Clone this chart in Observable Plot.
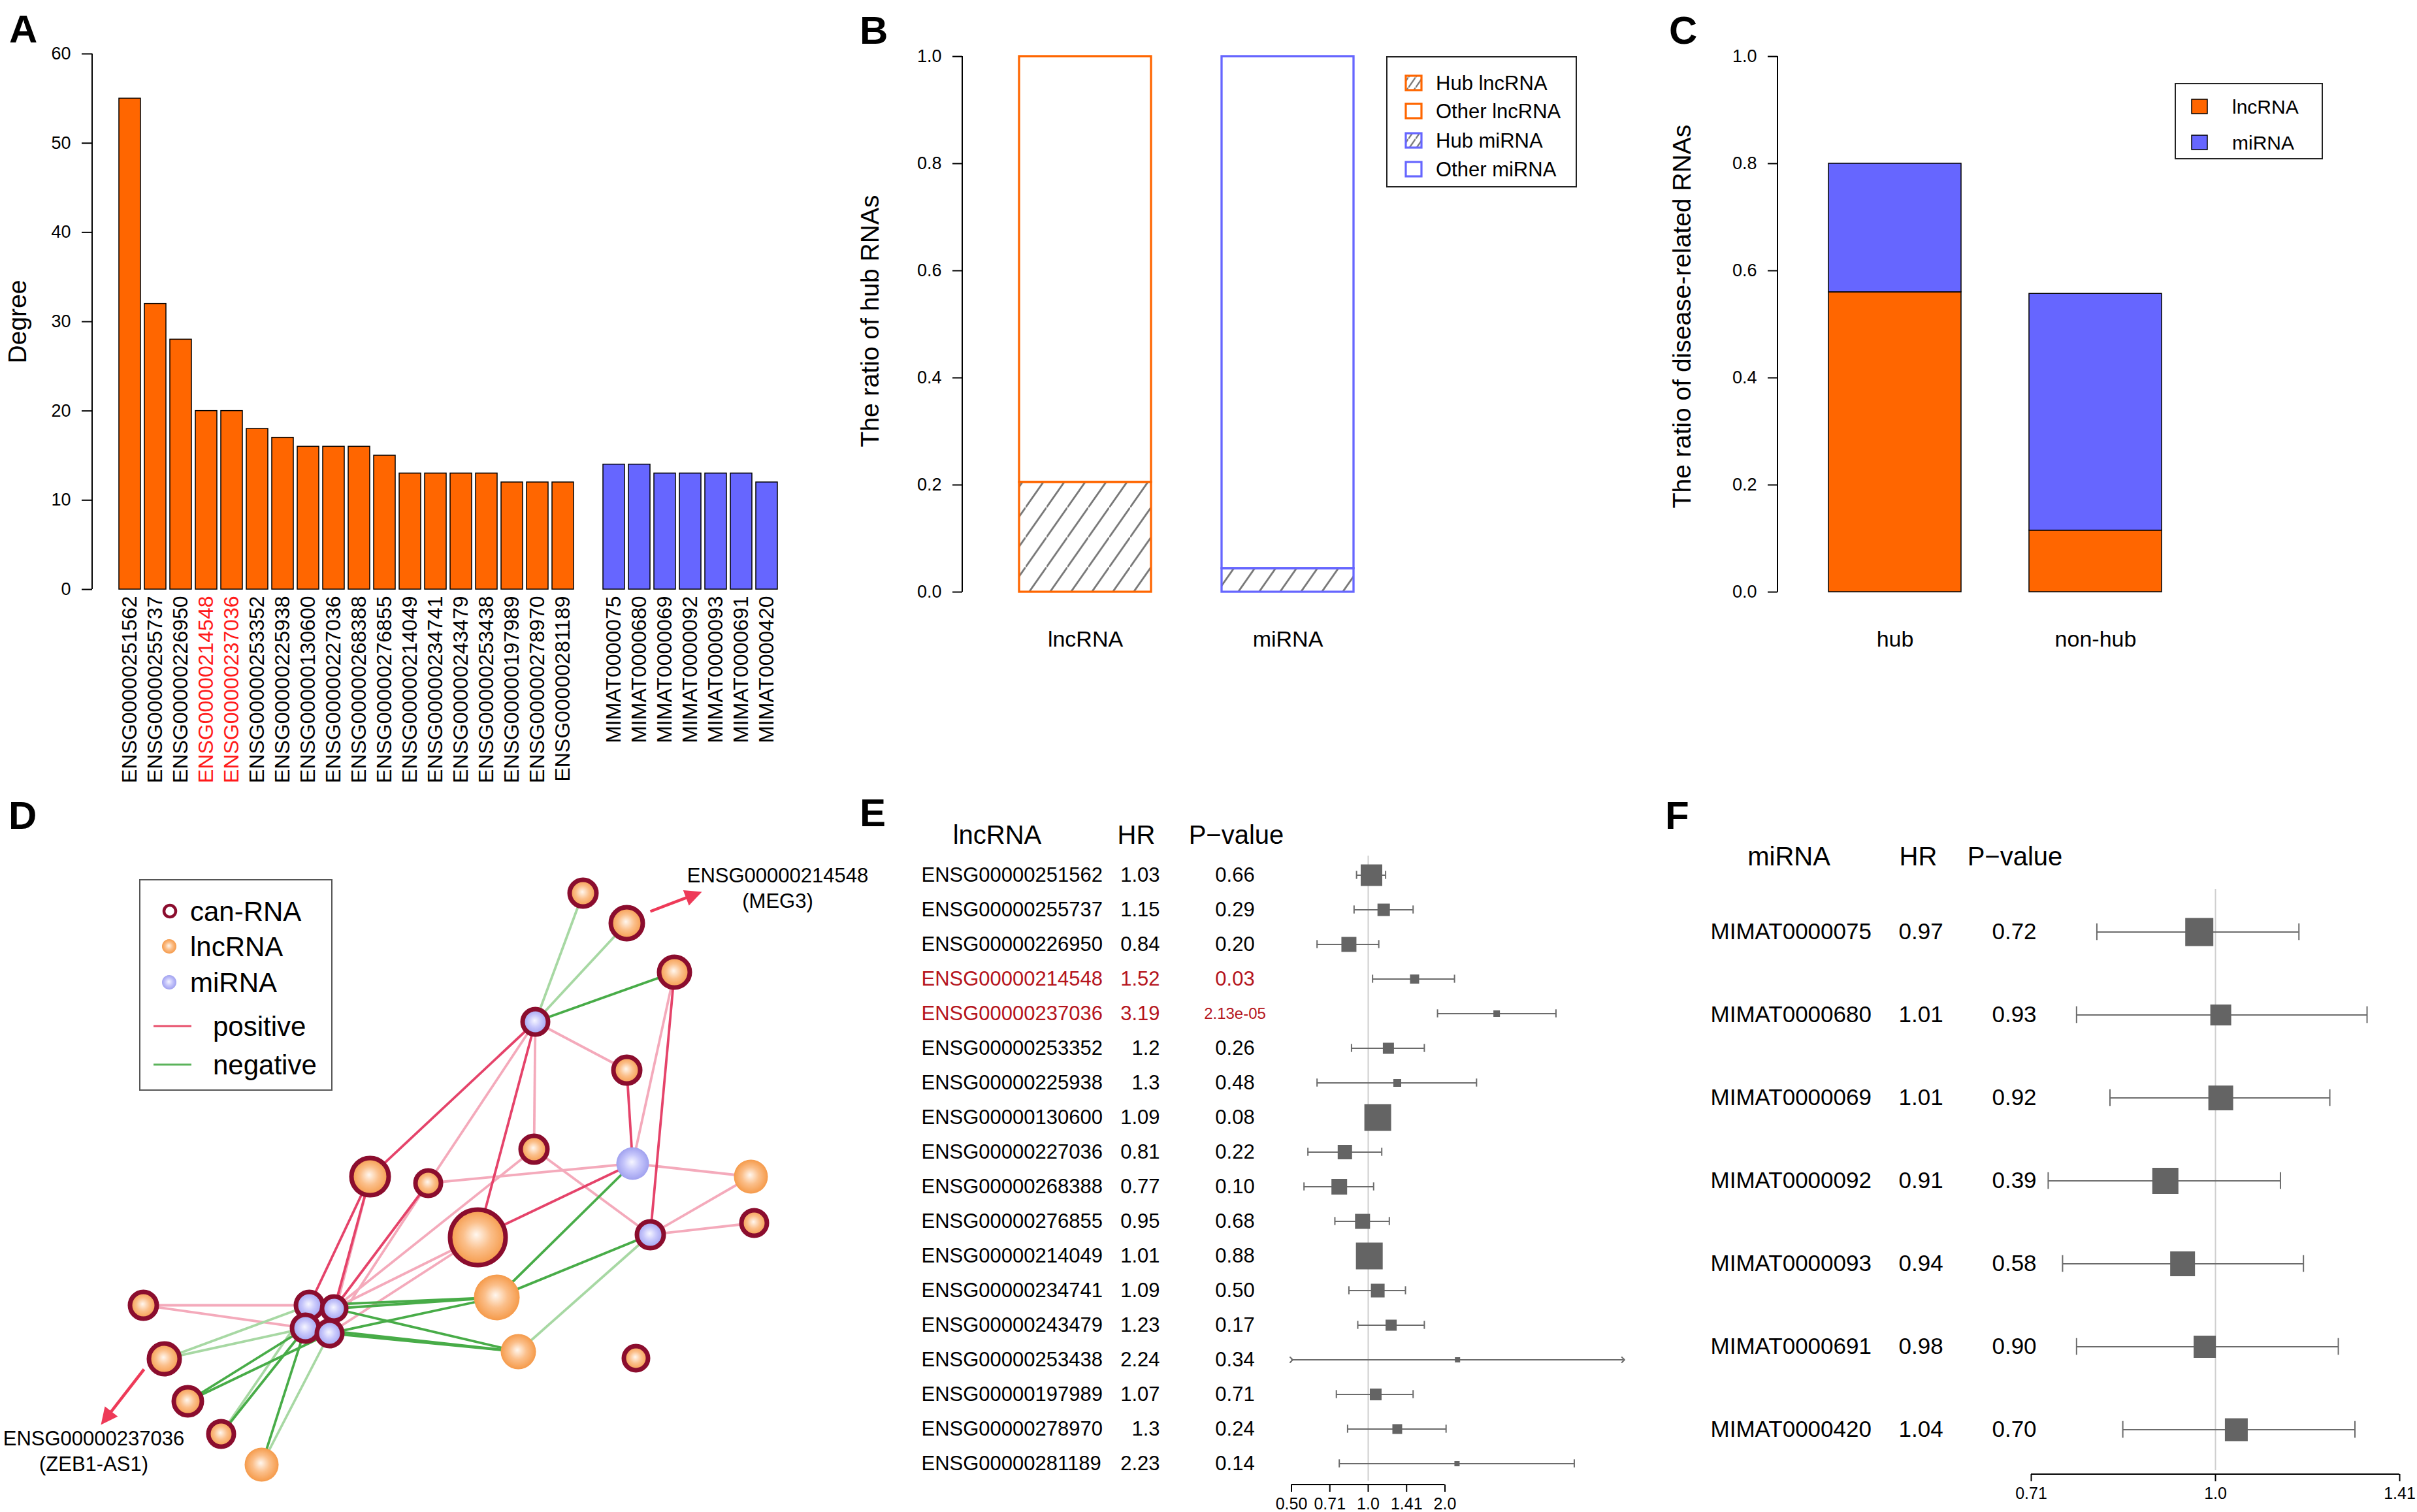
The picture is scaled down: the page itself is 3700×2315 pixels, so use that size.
<!DOCTYPE html>
<html>
<head>
<meta charset="utf-8">
<script src="https://cdn.jsdelivr.net/npm/d3@7"></script>
<script src="https://cdn.jsdelivr.net/npm/@observablehq/plot@0.6"></script>
<style>
html, body { margin: 0; padding: 0; background: #fff; }
#fig { position: relative; width: 3700px; height: 2315px; overflow: hidden; background: #fff;
       font-family: "Liberation Sans", Arial, Helvetica, sans-serif; }
.panel { position: absolute; }
.panel svg { display: block; max-width: none !important; overflow: visible; }
.letter { position: absolute; font-weight: bold; font-size: 60px; line-height: 60px; color: #000; }
</style>
</head>
<body>
<svg width="0" height="0" style="position:absolute;left:0;top:0">
  <defs>
    <pattern id="hatch" patternUnits="userSpaceOnUse" width="32" height="45.7">
      <path d="M-8,57.1L40,-11.4" stroke="#777" stroke-width="2.8" fill="none"/>
    </pattern>
    <pattern id="hatchSmall" patternUnits="userSpaceOnUse" width="11" height="15.7">
      <path d="M-3,20L14,-4.3" stroke="#777" stroke-width="2.4" fill="none"/>
    </pattern>
    <radialGradient id="gLnc" cx="0.5" cy="0.5" r="0.5" fx="0.47" fy="0.45">
      <stop offset="0" stop-color="#fff7ef"/>
      <stop offset="0.5" stop-color="#fbbf8a"/>
      <stop offset="1" stop-color="#f59a4a"/>
    </radialGradient>
    <radialGradient id="gMi" cx="0.5" cy="0.5" r="0.5" fx="0.47" fy="0.45">
      <stop offset="0" stop-color="#f6f6ff"/>
      <stop offset="0.5" stop-color="#c6c6fb"/>
      <stop offset="1" stop-color="#a0a1ef"/>
    </radialGradient>
  </defs>
</svg>
<div id="fig"></div>
<script>
// ------------------------------------------------------------------ data
// Panel A: degree of hub RNAs
const lncNames = ["ENSG00000251562","ENSG00000255737","ENSG00000226950","ENSG00000214548","ENSG00000237036",
  "ENSG00000253352","ENSG00000225938","ENSG00000130600","ENSG00000227036","ENSG00000268388","ENSG00000276855",
  "ENSG00000214049","ENSG00000234741","ENSG00000243479","ENSG00000253438","ENSG00000197989","ENSG00000278970",
  "ENSG00000281189"];
const lncDegree = [55,32,28,20,20,18,17,16,16,16,15,13,13,13,13,12,12,12];
const miNames = ["MIMAT0000075","MIMAT0000680","MIMAT0000069","MIMAT0000092","MIMAT0000093","MIMAT0000691","MIMAT0000420"];
const miDegree = [14,14,13,13,13,13,12];
const highlightedLnc = ["ENSG00000214548","ENSG00000237036"];
const degreeTicks = [0,10,20,30,40,50,60];

// Panel B: ratio of hub RNAs
const hubGroups = ["lncRNA","miRNA"];
const hubRatio = [0.205, 0.044];
const ratioTicks = [0,0.2,0.4,0.6,0.8,1.0];
const bLegendLabels = ["Hub lncRNA","Other lncRNA","Hub miRNA","Other miRNA"];

// Panel C: ratio of disease-related RNAs (stacked)
const hubClasses = ["hub","non-hub"];
const rnaTypes = ["lncRNA","miRNA"];
const diseaseLnc = [0.56, 0.115];
const diseaseMi = [0.24, 0.442];

// Panel D: network (layout coordinates, node type, cancer-related flag, node size)
const nodeIds   = ["n1","n2","n3","n4","n5","n6","n7","n8","n9","n10","n11","n12","n13","n14","n15","n16","m1","m2","m3","m4","n18","n19","n20","n21","n22"];
const nodeX     = [89.2,95.9,103.2,81.9,95.9,81.7,96.8,114.9,56.6,65.5,73.1,99.5,115.4,76.0,79.3,97.3,47.3,51.1,46.7,50.4,21.9,25.1,28.7,33.8,40.0];
const nodeY     = [18.7,23.3,30.8,38.4,45.8,57.9,60.1,62.1,62.1,63.1,71.4,71.0,69.2,80.6,88.9,89.9,81.8,82.3,85.3,86.1,81.8,90.0,96.5,101.5,106.2];
const nodeType  = ["lnc","lnc","lnc","mi","lnc","lnc","mi","lnc","lnc","lnc","lnc","mi","lnc","lnc","lnc","lnc","mi","mi","mi","mi","lnc","lnc","lnc","lnc","lnc"];
const nodeCan   = [1,1,1,1,1,1,0,0,1,1,1,1,1,0,0,1,1,1,1,1,1,1,1,1,0];
const nodeSize  = [24,28,27,23,24,24,25,26,32,23,46,24,23,35,27,22,24,22,24,23,24,27,25,23,26];
const edgeFrom  = ["n4","n4","n3","n5","n7","n9","n9","n10","n4","n4","n4","n3","n7","n7","n6","n12","n12","n6","n9","n10","n11","n11","n18","n18",
                   "n4","n7","n12","n14","n14","n14","n15","n15","n15","n20","n20","n21","n22","n4","n4","n12","n19","n19","n21","n22"];
const edgeTo    = ["n9","n11","n12","n7","n11","m1","m2","m2","n10","n6","n5","n7","n10","n8","n12","n8","n13","m2","m4","m4","m2","m4","m1","m3",
                   "n3","n14","n14","m1","m2","m4","m2","m4","m3","m3","m4","m3","m3","n1","n2","n15","m3","m1","m1","m4"];
const edgeSign  = ["+","+","+","+","+","+","+","+","+","+","+","+","+","+","+","+","+","+","+","+","+","+","+","+",
                   "-","-","-","-","-","-","-","-","-","-","-","-","-","-","-","-","-","-","-","-"];
const edgeStrong= [1,1,1,1,1,1,1,1,0,0,0,0,0,0,0,0,0,0,0,0,0,0,0,0,
                   1,1,1,1,1,1,1,1,1,1,1,1,1,0,0,0,0,0,0,0];
const annoGenes   = ["ENSG00000214548","ENSG00000237036"];
const annoSymbols = ["(MEG3)","(ZEB1-AS1)"];
const annoTailX = [99.5, 22.0], annoTailY = [21.5, 91.6];
const annoTipX  = [107.4, 15.4], annoTipY = [18.5, 100.1];
const annoLabelX = [119.0, 14.3], annoLabelY = [16.1, 102.3];
const dLegendLabels = ["can-RNA","lncRNA","miRNA","positive","negative"];

// Panel E: lncRNA survival (Cox) results
const eNames = lncNames;
const eHR = ["1.03","1.15","0.84","1.52","3.19","1.2","1.3","1.09","0.81","0.77","0.95","1.01","1.09","1.23","2.24","1.07","1.3","2.23"];
const eP  = ["0.66","0.29","0.20","0.03","2.13e-05","0.26","0.48","0.08","0.22","0.10","0.68","0.88","0.50","0.17","0.34","0.71","0.24","0.14"];
const eLower = [0.90,0.88,0.63,1.04,1.87,0.86,0.63,0.99,0.58,0.56,0.74,0.91,0.84,0.91,0.30,0.75,0.83,0.77];
const eUpper = [1.17,1.50,1.10,2.18,5.45,1.66,2.66,1.20,1.13,1.05,1.21,1.12,1.40,1.66,16.5,1.50,2.02,6.43];
const eWeight = [33,19,23,14,10,17,12,41,22,24,23,41,21,17,8,18,15,8];
const eClip = [0.5, 10];
const eTicks = [0.5, Math.SQRT1_2, 1, Math.SQRT2, 2];
const eTickLabels = ["0.50","0.71","1.0","1.41","2.0"];
const eHeaders = ["lncRNA","HR","P\u2212value"];

// Panel F: miRNA survival (Cox) results
const fNames = miNames;
const fHR = ["0.97","1.01","1.01","0.91","0.94","0.98","1.04"];
const fP  = ["0.72","0.93","0.92","0.39","0.58","0.90","0.70"];
const fLower = [0.80,0.77,0.82,0.73,0.75,0.77,0.84];
const fUpper = [1.17,1.33,1.24,1.13,1.18,1.26,1.30];
const fWeight = [43,32,38,40,38,34,35];
const fTicks = [Math.SQRT1_2, 1, Math.SQRT2];
const fTickLabels = ["0.71","1.0","1.41"];
const fHeaders = ["miRNA","HR","P\u2212value"];

// ------------------------------------------------------------------ helpers
const ORANGE = "#FF6600", BLUE = "#6666FF", HILITE = "#FF1A1A", SIGRED = "#B5141C";
const CAN = "#8B0D2E", BOX = "#646464", CI = "#6b6b6b";
const FONT = "'Liberation Sans', Arial, Helvetica, sans-serif";
const PLOT_STYLE = `background: transparent; font-family: ${FONT}; overflow: visible; max-width: none;`;
const fig = document.getElementById("fig");

function place(node, left, top, w, h) {
  const div = document.createElement("div");
  div.className = "panel";
  Object.assign(div.style, {left: left + "px", top: top + "px", width: w + "px", height: h + "px"});
  div.appendChild(node);
  fig.appendChild(div);
}
function letter(t, left, top) {
  const d = document.createElement("div");
  d.className = "letter"; d.textContent = t;
  d.style.left = left + "px"; d.style.top = top + "px";
  fig.appendChild(d);
}
function addLine(svg, x1, y1, x2, y2, sw = 2) {
  d3.select(svg).append("line")
    .attr("x1", x1).attr("x2", x2).attr("y1", y1).attr("y2", y2)
    .attr("stroke", "#000").attr("stroke-width", sw);
}
function overlay(left, top, w, h) {
  const s = d3.create("svg").attr("width", w).attr("height", h)
    .style("position", "absolute").style("left", left + "px").style("top", top + "px")
    .style("overflow", "visible").style("font-family", FONT);
  fig.appendChild(s.node());
  return s;
}

// ------------------------------------------------------------------ Panel A
{
  const rows = [
    ...lncNames.map((name, i) => ({name, degree: lncDegree[i], kind: "lncRNA"})),
    ...miNames.map((name, i) => ({name, degree: miDegree[i], kind: "miRNA"}))
  ];
  const domain = [...lncNames, "\u00a0", ...miNames];
  const ML = 141;
  const svg = Plot.plot({
    width: 1240, height: 1210, marginLeft: ML, marginRight: 10, marginTop: 82, marginBottom: 308,
    style: PLOT_STYLE,
    color: {type: "identity"},
    x: {domain, paddingInner: 0.165, paddingOuter: 0.86, axis: null},
    y: {domain: [0, 60], axis: null},
    marks: [
      Plot.barY(rows.filter(d => d.kind === "lncRNA"), {x: "name", y: "degree", fill: ORANGE, stroke: "#000", strokeWidth: 1.5}),
      Plot.barY(rows.filter(d => d.kind === "miRNA"), {x: "name", y: "degree", fill: BLUE, stroke: "#000", strokeWidth: 1.5}),
      Plot.axisY({ticks: degreeTicks, tickSize: 16, tickPadding: 17, fontSize: 27, strokeWidth: 2, label: null}),
      Plot.text(rows, {x: "name", y: 0, text: "name", rotate: -90, textAnchor: "end", dy: 10, fontSize: 32,
        fill: d => highlightedLnc.includes(d.name) ? HILITE : "#000"}),
      Plot.text(["Degree"], {text: d => d, y: () => 30, frameAnchor: "left", textAnchor: "middle", dx: -114, rotate: -90, fontSize: 39})
    ]
  });
  const y = svg.scale("y");
  addLine(svg, ML, y.apply(0), ML, y.apply(60), 2);
  place(svg, 0, 0, 1240, 1210);
  letter("A", 14, 15);
}

// ------------------------------------------------------------------ Panel B
{
  const rows = hubGroups.map((group, i) => ({group, hub: hubRatio[i]}));
  const col = g => g === "lncRNA" ? ORANGE : BLUE;
  const ML = 223;
  const svg = Plot.plot({
    width: 930, height: 1100, marginLeft: ML, marginRight: 22, marginTop: 86, marginBottom: 194,
    style: PLOT_STYLE,
    color: {type: "identity"},
    x: {domain: hubGroups, paddingInner: 0.35, paddingOuter: 0.2765, axis: null},
    y: {domain: [0, 1], axis: null},
    marks: [
      Plot.barY(rows, {x: "group", y1: "hub", y2: 1, fill: "white", stroke: d => col(d.group), strokeWidth: 3.3}),
      Plot.barY(rows, {x: "group", y1: 0, y2: "hub", fill: "url(#hatch)", stroke: d => col(d.group), strokeWidth: 3.3}),
      Plot.axisY({ticks: ratioTicks, tickFormat: d3.format(".1f"), tickSize: 15, tickPadding: 17, fontSize: 27, strokeWidth: 2, label: null}),
      Plot.text(rows, {x: "group", y: 0, dy: 73, text: "group", fontSize: 34}),
      Plot.text(["The ratio of hub RNAs"], {text: d => d, y: () => 0.5, dy: -5, frameAnchor: "left", textAnchor: "middle", dx: -141, rotate: -90, fontSize: 39})
    ]
  });
  const y = svg.scale("y");
  addLine(svg, ML, y.apply(0), ML, y.apply(1), 2);
  place(svg, 1250, 0, 930, 1100);
  letter("B", 1316, 17);

  // legend
  const lg = overlay(2123, 87, 290, 199);
  lg.append("rect").attr("x", 0).attr("y", 0).attr("width", 290).attr("height", 199)
    .attr("fill", "white").attr("stroke", "#222").attr("stroke-width", 2);
  const cy = [40, 83, 128, 172];
  bLegendLabels.forEach((lab, i) => {
    const isHub = lab.startsWith("Hub");
    const c = lab.includes("lncRNA") ? ORANGE : BLUE;
    lg.append("rect").attr("x", 29).attr("y", cy[i] - 11).attr("width", 24).attr("height", 22)
      .attr("fill", isHub ? "url(#hatchSmall)" : "white").attr("stroke", c).attr("stroke-width", 3.2);
    lg.append("text").attr("x", 75).attr("y", cy[i]).attr("dy", "0.36em")
      .attr("font-size", 31).text(lab);
  });
}

// ------------------------------------------------------------------ Panel C
{
  const rows = hubClasses.flatMap((cls, i) => [
    {cls, type: "lncRNA", v: diseaseLnc[i]},
    {cls, type: "miRNA", v: diseaseMi[i]}
  ]);
  const ML = 241;
  const svg = Plot.plot({
    width: 930, height: 1100, marginLeft: ML, marginRight: 24, marginTop: 86, marginBottom: 194,
    style: PLOT_STYLE,
    x: {domain: hubClasses, paddingInner: 0.34, paddingOuter: 0.25, axis: null},
    y: {domain: [0, 1], axis: null},
    color: {domain: rnaTypes, range: [ORANGE, BLUE]},
    marks: [
      Plot.barY(rows, {x: "cls", y: "v", fill: "type", stroke: "#000", strokeWidth: 1.5}),
      Plot.axisY({ticks: ratioTicks, tickFormat: d3.format(".1f"), tickSize: 15, tickPadding: 17, fontSize: 27, strokeWidth: 2, label: null}),
      Plot.text(hubClasses, {x: d => d, y: 0, dy: 73, text: d => d, fontSize: 34}),
      Plot.text(["The ratio of disease-related RNAs"], {text: d => d, y: () => 0.5, dy: -12, frameAnchor: "left", textAnchor: "middle", dx: -146, rotate: -90, fontSize: 39})
    ]
  });
  const y = svg.scale("y");
  addLine(svg, ML, y.apply(0), ML, y.apply(1), 2);
  place(svg, 2480, 0, 930, 1100);
  letter("C", 2555, 17);

  const lg = overlay(3330, 128, 225, 115);
  lg.append("rect").attr("width", 225).attr("height", 115)
    .attr("fill", "white").attr("stroke", "#222").attr("stroke-width", 2);
  const cy = [35, 90];
  rnaTypes.forEach((t, i) => {
    lg.append("rect").attr("x", 25).attr("y", cy[i] - 11).attr("width", 24).attr("height", 22)
      .attr("fill", i === 0 ? ORANGE : BLUE).attr("stroke", "#000").attr("stroke-width", 1.5);
    lg.append("text").attr("x", 87).attr("y", cy[i]).attr("dy", "0.36em").attr("font-size", 30).text(t);
  });
}

// ------------------------------------------------------------------ Panel D
{
  const nodes = nodeIds.map((id, i) => ({id, x: nodeX[i], y: nodeY[i], type: nodeType[i], can: !!nodeCan[i], size: nodeSize[i]}));
  const byId = new Map(nodes.map(n => [n.id, n]));
  const edges = edgeFrom.map((f, i) => {
    const a = byId.get(f), b = byId.get(edgeTo[i]);
    return {x1: a.x, y1: a.y, x2: b.x, y2: b.y, sign: edgeSign[i], strong: !!edgeStrong[i]};
  });
  const annos = annoGenes.map((g, i) => ({gene: g, symbol: annoSymbols[i],
    x1: annoTailX[i], y1: annoTailY[i], x2: annoTipX[i], y2: annoTipY[i], lx: annoLabelX[i], ly: annoLabelY[i]}));
  const HEAD_LEN = 2.6, HEAD_HALF = 1.25;
  const heads = annos.flatMap((a, k) => {
    const dx = a.x2 - a.x1, dy = a.y2 - a.y1, L = Math.hypot(dx, dy), ux = dx / L, uy = dy / L;
    const bx = a.x2 - ux * HEAD_LEN, by = a.y2 - uy * HEAD_LEN;
    return [{k, x: a.x2, y: a.y2}, {k, x: bx - uy * HEAD_HALF, y: by + ux * HEAD_HALF}, {k, x: bx + uy * HEAD_HALF, y: by - ux * HEAD_HALF}];
  });
  const shafts = annos.map(a => {
    const dx = a.x2 - a.x1, dy = a.y2 - a.y1, L = Math.hypot(dx, dy);
    return {x1: a.x1, y1: a.y1, x2: a.x2 - dx / L * HEAD_LEN * 0.7, y2: a.y2 - dy / L * HEAD_LEN * 0.7};
  });
  const ARROW = "#EE3A58";
  const edgeStyle = [
    {sign: "+", strong: false, stroke: "#F4AABB"},
    {sign: "-", strong: false, stroke: "#A7D8A3"},
    {sign: "+", strong: true, stroke: "#E5436A"},
    {sign: "-", strong: true, stroke: "#48AC48"}
  ];
  const svg = Plot.plot({
    width: 1350, height: 1135, margin: 0,
    style: PLOT_STYLE,
    x: {domain: [0, 135], range: [0, 1350], axis: null},
    y: {domain: [0, 113.5], range: [0, 1135], axis: null},
    r: {type: "linear", domain: [0, 50], range: [0, 50]},
    color: {type: "identity"},
    marks: [
      ...edgeStyle.map(s => Plot.link(edges.filter(e => e.sign === s.sign && e.strong === s.strong),
        {x1: "x1", y1: "y1", x2: "x2", y2: "y2", stroke: s.stroke, strokeWidth: 3.8})),
      Plot.dot(nodes, {x: "x", y: "y", r: d => d.can ? d.size - 3.5 : d.size,
        fill: d => d.type === "lnc" ? "url(#gLnc)" : "url(#gMi)",
        stroke: d => d.can ? CAN : "none", strokeWidth: 7}),
      Plot.link(shafts, {x1: "x1", y1: "y1", x2: "x2", y2: "y2", stroke: ARROW, strokeWidth: 4.5}),
      Plot.line(heads, {x: "x", y: "y", z: "k", fill: ARROW, stroke: "none", curve: "linear-closed"}),
      Plot.text(annos, {x: "lx", y: "ly", text: "gene", fontSize: 31}),
      Plot.text(annos, {x: "lx", y: "ly", text: "symbol", fontSize: 31, dy: 39})
    ]
  });
  place(svg, 0, 1180, 1350, 1135);
  letter("D", 13, 1219);

  // legend
  const lg = overlay(214, 1347, 294, 322);
  lg.append("rect").attr("width", 294).attr("height", 322).attr("fill", "white").attr("stroke", "#555").attr("stroke-width", 2);
  const rowY = [48, 102, 157, 224, 283];
  lg.append("circle").attr("cx", 46).attr("cy", rowY[0]).attr("r", 9).attr("fill", "white").attr("stroke", CAN).attr("stroke-width", 4.5);
  lg.append("circle").attr("cx", 45).attr("cy", rowY[1]).attr("r", 11).attr("fill", "url(#gLnc)");
  lg.append("circle").attr("cx", 45).attr("cy", rowY[2]).attr("r", 11).attr("fill", "url(#gMi)");
  lg.append("line").attr("x1", 21).attr("x2", 79).attr("y1", rowY[3]).attr("y2", rowY[3]).attr("stroke", "#E8506C").attr("stroke-width", 3);
  lg.append("line").attr("x1", 21).attr("x2", 79).attr("y1", rowY[4]).attr("y2", rowY[4]).attr("stroke", "#5BB35B").attr("stroke-width", 3);
  dLegendLabels.forEach((t, i) => {
    lg.append("text").attr("x", i < 3 ? 77 : 112).attr("y", rowY[i]).attr("dy", "0.36em").attr("font-size", 42).text(t);
  });
}

// ------------------------------------------------------------------ forest plot builder (E, F)
function forest({names, hr, p, lower, upper, weight, clipRange, ticks, tickLabels, headers,
                 width, height, xRange, yRange, marginBottom, refTop, capHeight,
                 nameDx, hrDx, hrAnchor, pDx, headerDx, headerDy, fontSize, pSmallSize}) {
  const rows = names.map((name, i) => ({name, hrLabel: hr[i], hr: +hr[i], p: p[i], lo: lower[i], hi: upper[i], w: weight[i]}));
  const [a, b] = clipRange;
  const clip = v => Math.max(a, Math.min(b, v));
  const sig = d => parseFloat(d.p) < 0.05;
  const step = (yRange[1] - yRange[0]) / names.length;
  const capInset = (step - capHeight) / 2;
  const tickLab = new Map(ticks.map((t, i) => [t, tickLabels[i]]));
  const svg = Plot.plot({
    width, height, marginLeft: 0, marginRight: 0, marginTop: 0, marginBottom,
    style: PLOT_STYLE,
    color: {type: "identity"},
    x: {type: "log", base: 2, domain: clipRange, range: xRange, axis: null},
    y: {type: "band", domain: names, range: yRange, padding: 0, axis: null},
    r: {type: "linear", domain: [0, 50], range: [0, 50 / Math.sqrt(Math.PI)]},
    marks: [
      Plot.ruleX([1], {stroke: "#cfcfcf", strokeWidth: 2, insetTop: refTop, insetBottom: 6}),
      Plot.ruleY(rows, {y: "name", x1: d => clip(d.lo), x2: d => clip(d.hi), stroke: CI, strokeWidth: 2}),
      Plot.tickX(rows.filter(d => d.lo >= a), {x: "lo", y: "name", stroke: CI, strokeWidth: 2, insetTop: capInset, insetBottom: capInset}),
      Plot.tickX(rows.filter(d => d.hi <= b), {x: "hi", y: "name", stroke: CI, strokeWidth: 2, insetTop: capInset, insetBottom: capInset}),
      Plot.link(rows.filter(d => d.lo < a && d.hi > b), {x1: a, x2: b, y1: "name", y2: "name", stroke: CI, strokeWidth: 2, markerStart: "arrow", markerEnd: "arrow"}),
      Plot.link(rows.filter(d => d.lo < a && d.hi <= b), {x1: a, x2: d => d.hi, y1: "name", y2: "name", stroke: CI, strokeWidth: 2, markerStart: "arrow"}),
      Plot.link(rows.filter(d => d.lo >= a && d.hi > b), {x1: d => d.lo, x2: b, y1: "name", y2: "name", stroke: CI, strokeWidth: 2, markerEnd: "arrow"}),
      Plot.dot(rows, {x: "hr", y: "name", r: "w", symbol: "square", fill: BOX}),
      Plot.axisX({ticks, tickFormat: d => tickLab.get(d), tickSize: 11, tickPadding: 9, fontSize: 25, strokeWidth: 2, label: null, anchor: "bottom"}),
      Plot.text(rows, {y: "name", text: "name", frameAnchor: "left", dx: nameDx, textAnchor: "start", fontSize,
        fill: d => sig(d) ? SIGRED : "#000"}),
      Plot.text(rows, {y: "name", text: "hrLabel", frameAnchor: "left", dx: hrDx, textAnchor: hrAnchor, fontSize,
        fill: d => sig(d) ? SIGRED : "#000"}),
      Plot.text(rows.filter(d => !d.p.includes("e")), {y: "name", text: "p", frameAnchor: "left", dx: pDx, textAnchor: "middle", fontSize,
        fill: d => sig(d) ? SIGRED : "#000"}),
      Plot.text(rows.filter(d => d.p.includes("e")), {y: "name", text: "p", frameAnchor: "left", dx: pDx, textAnchor: "middle", fontSize: pSmallSize,
        fill: d => sig(d) ? SIGRED : "#000"}),
      ...headers.map((h, i) => Plot.text([h], {text: d => d, frameAnchor: "top-left", textAnchor: "middle", dx: headerDx[i], dy: headerDy, fontSize: 40}))
    ]
  });
  const x = svg.scale("x");
  const yAxis = height - marginBottom;
  addLine(svg, x.apply(ticks[0]), yAxis, x.apply(ticks[ticks.length - 1]), yAxis, 2);
  return svg;
}

// ------------------------------------------------------------------ Panel E
{
  const svg = forest({names: eNames, hr: eHR, p: eP, lower: eLower, upper: eUpper, weight: eWeight,
    clipRange: eClip, ticks: eTicks, tickLabels: eTickLabels, headers: eHeaders,
    width: 1250, height: 1135, xRange: [676.5, 1184.3], yRange: [126.7, 1092.8], marginBottom: 42,
    refTop: 130, capHeight: 13, nameDx: 110, hrDx: 475, hrAnchor: "end", pDx: 590,
    headerDx: [226, 439, 592], headerDy: 83, fontSize: 31, pSmallSize: 24});
  place(svg, 1300, 1180, 1250, 1135);
  letter("E", 1316, 1215);
}

// ------------------------------------------------------------------ Panel F
{
  const svg = forest({names: fNames, hr: fHR, p: fP, lower: fLower, upper: fUpper, weight: fWeight,
    clipRange: [Math.SQRT1_2, Math.SQRT2], ticks: fTicks, tickLabels: fTickLabels, headers: fHeaders,
    width: 1180, height: 1135, xRange: [589, 1153], yRange: [181.1, 1073.1], marginBottom: 58,
    refTop: 181, capHeight: 26, nameDx: 98, hrDx: 386, hrAnchor: "start", pDx: 563,
    headerDx: [218, 416, 564], headerDy: 116, fontSize: 35, pSmallSize: 28});
  place(svg, 2520, 1180, 1180, 1135);
  letter("F", 2549, 1219);
}
</script>
</body>
</html>
